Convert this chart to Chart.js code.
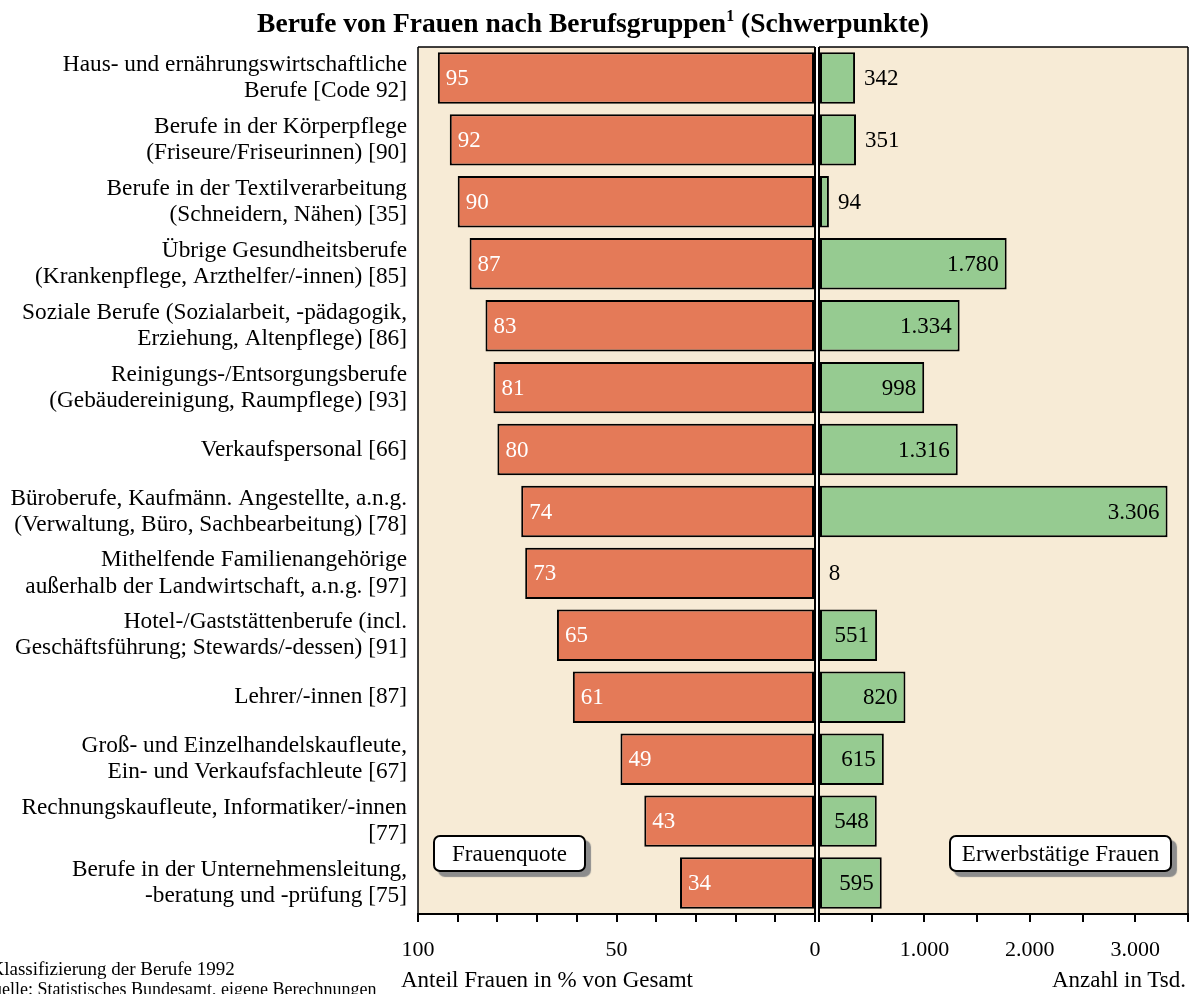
<!DOCTYPE html>
<html><head><meta charset="utf-8">
<script src="https://cdn.jsdelivr.net/npm/chart.js@4/dist/chart.umd.min.js"></script>
<style>
html,body{margin:0;padding:0;background:#fff;}
body{width:1195px;height:994px;overflow:hidden;position:relative;font-family:"Liberation Serif","Times New Roman",serif;color:#000;}
canvas{position:absolute;left:0;top:0;}
.t{position:absolute;white-space:nowrap;line-height:1;}
.box{position:absolute;box-sizing:border-box;height:37px;border:2px solid #000;border-radius:7px;background:#fff;box-shadow:5px 5px 1px #8c8c8c;font-size:23px;display:flex;align-items:center;justify-content:center;}
</style></head>
<body>
<canvas id="cl" width="1195" height="994"></canvas>
<canvas id="cr" width="1195" height="994"></canvas>
<div class="t" style="left:0;width:1186px;text-align:center;top:9px;font-size:27.5px;font-weight:bold;">Berufe von Frauen nach Berufsgruppen<sup style="font-size:16px;vertical-align:11px;line-height:0">1</sup> (Schwerpunkte)</div>
<div class="box" style="left:433px;top:835px;width:153px;">Frauenquote</div>
<div class="box" style="left:949px;top:835px;width:223px;">Erwerbstätige Frauen</div>
<div class="t" style="left:401px;top:968px;font-size:23px;">Anteil Frauen in % von Gesamt</div>
<div class="t" style="right:9px;top:968px;font-size:23px;">Anzahl in Tsd.</div>
<div class="t" style="left:-15px;top:959px;font-size:19px;"><sup style="font-size:11px;line-height:0">1</sup>Klassifizierung der Berufe 1992</div>
<div class="t" style="left:-20px;top:980px;font-size:18px;">Quelle: Statistisches Bundesamt, eigene Berechnungen</div>
<script>
const categories = [
  ["Haus- und ernährungswirtschaftliche", "Berufe [Code 92]"],
  ["Berufe in der Körperpflege", "(Friseure/Friseurinnen) [90]"],
  ["Berufe in der Textilverarbeitung", "(Schneidern, Nähen) [35]"],
  ["Übrige Gesundheitsberufe", "(Krankenpflege, Arzthelfer/-innen) [85]"],
  ["Soziale Berufe (Sozialarbeit, -pädagogik,", "Erziehung, Altenpflege) [86]"],
  ["Reinigungs-/Entsorgungsberufe", "(Gebäudereinigung, Raumpflege) [93]"],
  ["Verkaufspersonal [66]"],
  ["Büroberufe, Kaufmänn. Angestellte, a.n.g.", "(Verwaltung, Büro, Sachbearbeitung) [78]"],
  ["Mithelfende Familienangehörige", "außerhalb der Landwirtschaft, a.n.g. [97]"],
  ["Hotel-/Gaststättenberufe (incl.", "Geschäftsführung; Stewards/-dessen) [91]"],
  ["Lehrer/-innen [87]"],
  ["Groß- und Einzelhandelskaufleute,", "Ein- und Verkaufsfachleute [67]"],
  ["Rechnungskaufleute, Informatiker/-innen", "[77]"],
  ["Berufe in der Unternehmensleitung,", "-beratung und -prüfung [75]"]
];
const frauenquote = [95, 92, 90, 87, 83, 81, 80, 74, 73, 65, 61, 49, 43, 34];
const erwerbstaetige = [342, 351, 94, 1780, 1334, 998, 1316, 3306, 8, 551, 820, 615, 548, 595];
const leftTickLabels = [100, 50, 0];
const rightTickLabels = [1000, 2000, 3000];

const FONT = '"Liberation Serif","Times New Roman",serif';
const ORANGE = '#E47A58';
const GREEN = '#96CB91';
const BEIGE = '#F7EBD6';
const fmt = n => String(n).replace(/\B(?=(\d{3})+(?!\d))/g, '.');

const bgPlugin = {
  id: 'bg',
  beforeDraw(chart) {
    const a = chart.chartArea, c = chart.ctx;
    c.save(); c.fillStyle = BEIGE; c.fillRect(a.left, a.top, a.right - a.left, a.bottom - a.top); c.restore();
  }
};
const framePlugin = {
  id: 'frame',
  afterDatasetsDraw(chart) {
    const a = chart.chartArea, c = chart.ctx;
    c.save(); c.strokeStyle = '#000';
    c.lineWidth = 1.5;
    c.beginPath();
    c.moveTo(a.left, a.top); c.lineTo(a.right, a.top);
    c.stroke();
    const outer = chart.canvas.id === 'cl' ? a.left : a.right;
    const inner = chart.canvas.id === 'cl' ? a.right : a.left;
    c.beginPath(); c.moveTo(outer, a.top); c.lineTo(outer, a.bottom); c.stroke();
    c.lineWidth = 2;
    c.beginPath(); c.moveTo(inner, a.top); c.lineTo(inner, a.bottom); c.stroke();
    c.restore();
  }
};
const labelPlugin = {
  id: 'vals',
  afterDatasetsDraw(chart) {
    const c = chart.ctx, meta = chart.getDatasetMeta(0), vals = chart.data.datasets[0].data;
    const left = chart.canvas.id === 'cl';
    c.save(); c.font = '23px ' + FONT; c.textBaseline = 'middle';
    meta.data.forEach((el, i) => {
      const v = vals[i];
      if (left) {
        c.fillStyle = '#fff'; c.textAlign = 'left';
        c.fillText(String(v), el.x + 8, el.y + 1);
      } else {
        c.fillStyle = '#000';
        if (v > 450) { c.textAlign = 'right'; c.fillText(fmt(v), el.x - 8, el.y + 1); }
        else { c.textAlign = 'left'; c.fillText(fmt(v), el.x + 9, el.y + 1); }
      }
    });
    c.restore();
  }
};

function xAxis(opts) {
  return Object.assign({
    type: 'linear', position: 'bottom',
    afterFit: s => { s.height = 80; s.paddingLeft = 0; s.paddingRight = 0; },
    grid: { display: true, drawOnChartArea: false, drawTicks: true, tickLength: 8, color: '#000', lineWidth: 2 },
    border: { display: true, color: '#000', width: 2 }
  }, opts);
}

new Chart(document.getElementById('cl'), {
  type: 'bar',
  data: { labels: categories, datasets: [{ data: frauenquote, backgroundColor: ORANGE, borderColor: '#000', borderWidth: 2, borderSkipped: false, barPercentage: 0.83, categoryPercentage: 1 }] },
  options: {
    indexAxis: 'y', responsive: false, animation: false, devicePixelRatio: 1,
    layout: { padding: { top: 47, right: 380, left: 0, bottom: 0 } },
    plugins: { legend: { display: false }, tooltip: { enabled: false } },
    scales: {
      x: xAxis({ reverse: true, min: 0, max: 100,
        ticks: { stepSize: 10, autoSkip: false, maxRotation: 0, padding: 15, color: '#000', font: { family: FONT, size: 22 },
          callback: v => leftTickLabels.includes(v) ? String(v) : '' } }),
      y: { position: 'left', afterFit: s => { s.width = 418; },
        ticks: { color: '#000', padding: 11, font: { family: FONT, size: 23.3, lineHeight: 1.12 } },
        grid: { display: false, drawTicks: false }, border: { display: false } }
    }
  },
  plugins: [bgPlugin, framePlugin, labelPlugin]
});

new Chart(document.getElementById('cr'), {
  type: 'bar',
  data: { labels: categories, datasets: [{ data: erwerbstaetige, backgroundColor: GREEN, borderColor: '#000', borderWidth: 2, borderSkipped: false, barPercentage: 0.83, categoryPercentage: 1 }] },
  options: {
    indexAxis: 'y', responsive: false, animation: false, devicePixelRatio: 1,
    layout: { padding: { top: 47, right: 7, left: 819, bottom: 0 } },
    plugins: { legend: { display: false }, tooltip: { enabled: false } },
    scales: {
      x: xAxis({ min: 0, max: 3500,
        ticks: { stepSize: 500, autoSkip: false, maxRotation: 0, padding: 15, color: '#000', font: { family: FONT, size: 22 },
          callback: v => rightTickLabels.includes(v) ? fmt(v) : '' } }),
      y: { display: false }
    }
  },
  plugins: [bgPlugin, framePlugin, labelPlugin]
});
</script>
</body></html>
